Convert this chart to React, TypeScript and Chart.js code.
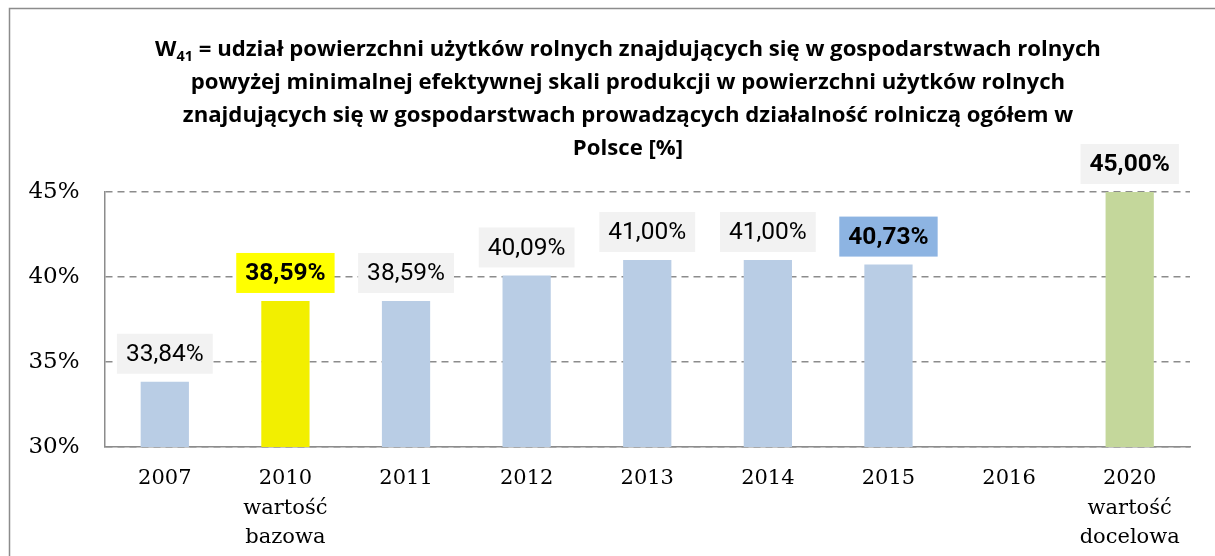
import React, { useEffect, useRef } from 'react';
import { Chart, registerables } from 'chart.js';

Chart.register(...registerables);

const categories: string[][] = [
  ['2007'],
  ['2010', 'wartość', 'bazowa'],
  ['2011'],
  ['2012'],
  ['2013'],
  ['2014'],
  ['2015'],
  ['2016'],
  ['2020', 'wartość', 'docelowa'],
];
const values: (number | null)[] = [33.84, 38.59, 38.59, 40.09, 41.0, 41.0, 40.73, null, 45.0];
const barColors = ['#B9CDE5', '#F2EF00', '#B9CDE5', '#B9CDE5', '#B9CDE5', '#B9CDE5', '#B9CDE5', '#B9CDE5', '#C4D79B'];
const labelBoxColors = ['#F2F2F2', '#FFFF00', '#F2F2F2', '#F2F2F2', '#F2F2F2', '#F2F2F2', '#8DB4E2', '#F2F2F2', '#F2F2F2'];
const labelBold = [false, true, false, false, false, false, true, false, true];
const yMin = 30;
const yMax = 45;
const yStep = 5;
const titleLine1Parts = ['W', '41', ' = udział powierzchni użytków rolnych znajdujących się w gospodarstwach rolnych'];
const titleLines = [
  'powyżej minimalnej efektywnej skali produkcji w powierzchni użytków rolnych',
  'znajdujących się w gospodarstwach prowadzących działalność rolniczą ogółem w',
  'Polsce [%]',
];

const fmt = (v: number) => v.toFixed(2).replace('.', ',') + '%';

const TITLE_FAMILY = '"Open Sans", Roboto, sans-serif';

const frameAndTitle = {
  id: 'frameAndTitle',
  beforeDraw(chart: any) {
    const ctx = chart.ctx;
    ctx.save();
    ctx.fillStyle = '#FFFFFF';
    ctx.fillRect(0, 0, chart.width, chart.height);
    ctx.strokeStyle = '#8C8C8C';
    ctx.lineWidth = 1.5;
    ctx.beginPath();
    ctx.moveTo(9.5, chart.height);
    ctx.lineTo(9.5, 8.5);
    ctx.lineTo(chart.width, 8.5);
    ctx.stroke();
    ctx.restore();
  },
  afterDraw(chart: any) {
    const ctx = chart.ctx;
    ctx.save();
    ctx.fillStyle = '#000000';
    ctx.textBaseline = 'alphabetic';
    const cx = 628;
    // fit first line to ~950px wide
    ctx.font = 'bold 20px ' + TITLE_FAMILY;
    const probe = ctx.measureText(titleLine1Parts[0] + titleLine1Parts[1] + titleLine1Parts[2]).width;
    const size = Math.max(16, Math.min(24, (20 * 955) / probe));
    const big = `bold ${size}px ${TITLE_FAMILY}`;
    const small = `bold ${size * 0.65}px ${TITLE_FAMILY}`;
    ctx.font = big;
    const w0 = ctx.measureText(titleLine1Parts[0]).width;
    const w2 = ctx.measureText(titleLine1Parts[2]).width;
    ctx.font = small;
    const w1 = ctx.measureText(titleLine1Parts[1]).width;
    let x = cx - (w0 + w1 + w2) / 2;
    ctx.textAlign = 'left';
    ctx.font = big;
    ctx.fillText(titleLine1Parts[0], x, 56);
    x += w0;
    ctx.font = small;
    ctx.fillText(titleLine1Parts[1], x, 61);
    x += w1;
    ctx.font = big;
    ctx.fillText(titleLine1Parts[2], x, 56);
    ctx.textAlign = 'center';
    titleLines.forEach((line, i) => {
      ctx.fillText(line, cx, 89 + i * 33);
    });
    ctx.restore();
  },
};

const valueLabels = {
  id: 'valueLabels',
  afterDatasetsDraw(chart: any) {
    const ctx = chart.ctx;
    const meta = chart.getDatasetMeta(0);
    ctx.save();
    meta.data.forEach((el: any, i: number) => {
      const v = values[i];
      if (v === null || v === undefined) return;
      const text = fmt(v);
      ctx.font = (labelBold[i] ? 'bold ' : '') + '24.5px Roboto, "Liberation Sans", sans-serif';
      const tw = ctx.measureText(text).width;
      const bw = tw + 18;
      const bh = 40;
      const bottom = el.y - 8;
      ctx.fillStyle = labelBoxColors[i];
      ctx.fillRect(el.x - bw / 2, bottom - bh, bw, bh);
      ctx.fillStyle = '#000000';
      ctx.textAlign = 'center';
      ctx.textBaseline = 'middle';
      ctx.fillText(text, el.x, bottom - bh / 2 + 1);
    });
    ctx.restore();
  },
};

export default function App() {
  const ref = useRef<HTMLCanvasElement>(null);
  useEffect(() => {
    if (!ref.current) return;
    const chart = new Chart(ref.current, {
      type: 'bar',
      data: {
        labels: categories as any,
        datasets: [
          {
            data: values as any,
            backgroundColor: barColors,
            borderWidth: 0,
            barPercentage: 0.8,
            categoryPercentage: 0.5,
          },
        ],
      },
      options: {
        responsive: false,
        animation: false,
        devicePixelRatio: 1,
        layout: { padding: { top: 192, right: 25, left: 0, bottom: 0 } },
        plugins: {
          legend: { display: false },
          title: { display: false },
          tooltip: { enabled: false },
        },
        scales: {
          x: {
            afterFit: (s: any) => {
              s.height = 109;
            },
            grid: { display: true, color: 'rgba(0,0,0,0)', drawTicks: false },
            border: { display: true, color: '#8C8C8C', width: 1.5 },
            ticks: {
              color: '#000000',
              padding: 17,
              maxRotation: 0,
              autoSkip: false,
              font: { family: '"DejaVu Serif", serif', size: 21, lineHeight: 1.4 },
            },
          },
          y: {
            min: yMin,
            max: yMax,
            afterFit: (s: any) => {
              s.width = 104.5;
            },
            grid: { color: '#8C8C8C', lineWidth: 1.5, drawTicks: false },
            border: { display: true, color: '#8C8C8C', width: 1.5, dash: [7, 5] },
            ticks: {
              stepSize: yStep,
              color: '#000000',
              padding: 25,
              font: { family: '"DejaVu Serif", serif', size: 23 },
              callback: (v: any) => v + '%',
            },
          },
        },
      },
      plugins: [frameAndTitle, valueLabels],
    });
    return () => chart.destroy();
  }, []);
  return (
    <div style={{ position: 'absolute', left: 0, top: 0, width: 1215, height: 556 }}>
      <canvas ref={ref} width={1215} height={556} />
    </div>
  );
}
